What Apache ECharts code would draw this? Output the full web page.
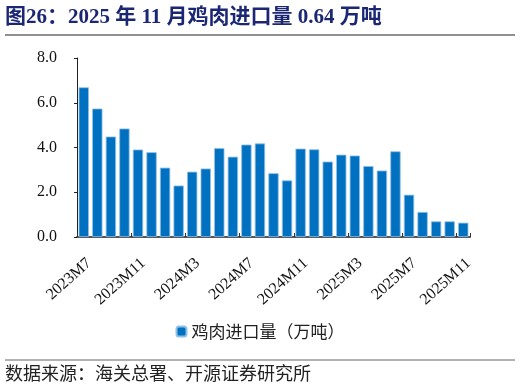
<!DOCTYPE html>
<html><head><meta charset="utf-8">
<script src="https://cdn.jsdelivr.net/npm/echarts@6/dist/echarts.min.js"></script>
<style>html,body{margin:0;padding:0;background:#fff}#c{width:520px;height:387px}</style>
</head><body><div id="c"></div>
<script>
const categories = ['2023M7','2023M8','2023M9','2023M10','2023M11','2023M12',
 '2024M1','2024M2','2024M3','2024M4','2024M5','2024M6','2024M7','2024M8','2024M9','2024M10','2024M11','2024M12',
 '2025M1','2025M2','2025M3','2025M4','2025M5','2025M6','2025M7','2025M8','2025M9','2025M10','2025M11'];
const chickenImports = [6.69,5.74,4.49,4.85,3.91,3.79,3.10,2.30,2.92,3.06,3.97,3.59,4.13,4.18,2.85,2.53,3.95,3.92,3.37,3.68,3.64,3.17,2.97,3.83,1.89,1.12,0.70,0.70,0.64];
const seriesName = '鸡肉进口量（万吨）';
const titleText = '图26：2025 年 11 月鸡肉进口量 0.64 万吨';
const sourceText = '数据来源：海关总署、开源证券研究所';

const chart = echarts.init(document.getElementById('c'));
chart.setOption({
  animation: false,
  graphic: [
    {type:'text', left:5, top:7, style:{text:titleText, font:'bold 21px "Liberation Serif","Noto Sans CJK SC"', fill:'#1c2774'}},
    {type:'line', shape:{x1:5,y1:35,x2:515,y2:35}, style:{stroke:'#222',lineWidth:1.2}},
    {type:'line', shape:{x1:5,y1:360,x2:515,y2:360}, style:{stroke:'#666',lineWidth:1}},
    {type:'text', left:5, top:364, style:{text:sourceText, font:'18px "Noto Sans CJK SC"', fill:'#222'}}
  ],
  legend: {
    data:[seriesName], top:318, left:'center', itemWidth:10, itemHeight:10, itemGap:4,
    textStyle:{fontSize:17, color:'#222', fontFamily:'"Noto Sans CJK SC"'}
  },
  grid: {left:77, right:50, top:58, bottom:150, containLabel:false},
  xAxis: {
    type:'category', data:categories,
    axisLine:{lineStyle:{color:'#555', width:2}},
    axisTick:{show:true, inside:true, length:4, lineStyle:{color:'#333'}},
    axisLabel:{interval:3, rotate:42, verticalAlign:'top', fontFamily:'"Liberation Serif"', fontSize:16, color:'#111', margin:18}
  },
  yAxis: {
    type:'value', min:0, max:8, interval:2,
    axisLine:{show:true, lineStyle:{color:'#222'}},
    axisTick:{show:true, length:3, lineStyle:{color:'#222'}},
    splitLine:{show:false},
    axisLabel:{formatter:v=>v.toFixed(1), fontFamily:'"Liberation Serif"', fontSize:16, color:'#111', margin:20}
  },
  series: [{
    name:seriesName, type:'bar', data:chickenImports, barWidth:'76%',
    itemStyle:{color:'#0070C0', borderColor:'#8fc0e8', borderWidth:0.8}
  }]
});
</script></body></html>
